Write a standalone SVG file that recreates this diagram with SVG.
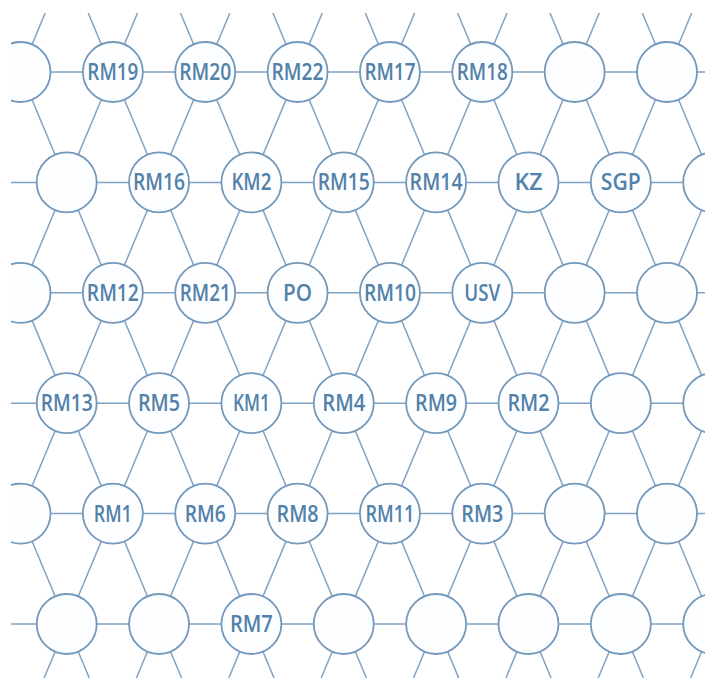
<svg xmlns="http://www.w3.org/2000/svg" width="705" height="678" viewBox="0 0 705 678">
<style>
.ln{stroke:#80a2c3;stroke-width:1.5;fill:none}
.nd{fill:#fdfeff;stroke:#7398bc;stroke-width:1.8}
.lb{font-family:"Open Sans",Lato,sans-serif;font-weight:600;font-size:22.5px;fill:#5281a9;text-anchor:middle}
</style>
<defs>
<clipPath id="c"><rect x="11" y="13" width="694" height="665"/></clipPath>
</defs>
<rect width="705" height="678" fill="#ffffff"/>
<g clip-path="url(#c)">
<g id="connectors" class="ln">
<line x1="11" y1="72" x2="705" y2="72"/>
<line x1="11" y1="182.4" x2="705" y2="182.4"/>
<line x1="11" y1="292.8" x2="705" y2="292.8"/>
<line x1="11" y1="403.2" x2="705" y2="403.2"/>
<line x1="11" y1="513.6" x2="705" y2="513.6"/>
<line x1="11" y1="624" x2="705" y2="624"/>
<line x1="-188.9" y1="13" x2="89.3" y2="678"/>
<line x1="-96.5" y1="13" x2="181.6" y2="678"/>
<line x1="-4.2" y1="13" x2="274" y2="678"/>
<line x1="88.2" y1="13" x2="366.4" y2="678"/>
<line x1="180.5" y1="13" x2="458.7" y2="678"/>
<line x1="272.9" y1="13" x2="551.1" y2="678"/>
<line x1="365.3" y1="13" x2="643.4" y2="678"/>
<line x1="457.6" y1="13" x2="735.8" y2="678"/>
<line x1="550" y1="13" x2="828.2" y2="678"/>
<line x1="642.3" y1="13" x2="920.5" y2="678"/>
<line x1="45.2" y1="13" x2="-233" y2="678"/>
<line x1="137.5" y1="13" x2="-140.6" y2="678"/>
<line x1="229.9" y1="13" x2="-48.3" y2="678"/>
<line x1="322.3" y1="13" x2="44.1" y2="678"/>
<line x1="414.6" y1="13" x2="136.4" y2="678"/>
<line x1="507" y1="13" x2="228.8" y2="678"/>
<line x1="599.3" y1="13" x2="321.2" y2="678"/>
<line x1="691.7" y1="13" x2="413.5" y2="678"/>
<line x1="784.1" y1="13" x2="505.9" y2="678"/>
<line x1="876.4" y1="13" x2="598.2" y2="678"/>
<line x1="968.8" y1="13" x2="690.6" y2="678"/>
</g>
<!-- row 1 -->
<g id="n-r1-0"><circle class="nd" cx="20.5" cy="72" r="30"/></g>
<g id="RM19"><circle class="nd" cx="112.86" cy="72" r="30"/><text class="lb" x="112.86" y="80" textLength="51" lengthAdjust="spacingAndGlyphs">RM19</text></g>
<g id="RM20"><circle class="nd" cx="205.22" cy="72" r="30"/><text class="lb" x="205.22" y="80" textLength="52" lengthAdjust="spacingAndGlyphs">RM20</text></g>
<g id="RM22"><circle class="nd" cx="297.58" cy="72" r="30"/><text class="lb" x="297.58" y="80" textLength="52" lengthAdjust="spacingAndGlyphs">RM22</text></g>
<g id="RM17"><circle class="nd" cx="389.94" cy="72" r="30"/><text class="lb" x="389.94" y="80" textLength="51" lengthAdjust="spacingAndGlyphs">RM17</text></g>
<g id="RM18"><circle class="nd" cx="482.3" cy="72" r="30"/><text class="lb" x="482.3" y="80" textLength="51" lengthAdjust="spacingAndGlyphs">RM18</text></g>
<g id="n-r1-6"><circle class="nd" cx="574.66" cy="72" r="30"/></g>
<g id="n-r1-7"><circle class="nd" cx="667.02" cy="72" r="30"/></g>
<!-- row 2 -->
<g id="n-r2-0"><circle class="nd" cx="66.68" cy="182.4" r="30"/></g>
<g id="RM16"><circle class="nd" cx="159.04" cy="182.4" r="30"/><text class="lb" x="159.04" y="190.4" textLength="52" lengthAdjust="spacingAndGlyphs">RM16</text></g>
<g id="KM2"><circle class="nd" cx="251.4" cy="182.4" r="30"/><text class="lb" x="251.4" y="190.4" textLength="40" lengthAdjust="spacingAndGlyphs">KM2</text></g>
<g id="RM15"><circle class="nd" cx="343.76" cy="182.4" r="30"/><text class="lb" x="343.76" y="190.4" textLength="52" lengthAdjust="spacingAndGlyphs">RM15</text></g>
<g id="RM14"><circle class="nd" cx="436.12" cy="182.4" r="30"/><text class="lb" x="436.12" y="190.4" textLength="53" lengthAdjust="spacingAndGlyphs">RM14</text></g>
<g id="KZ"><circle class="nd" cx="528.48" cy="182.4" r="30"/><text class="lb" x="528.48" y="190.4" textLength="28" lengthAdjust="spacingAndGlyphs">KZ</text></g>
<g id="SGP"><circle class="nd" cx="620.84" cy="182.4" r="30"/><text class="lb" x="620.84" y="190.4" textLength="40" lengthAdjust="spacingAndGlyphs">SGP</text></g>
<g id="n-r2-7"><circle class="nd" cx="713.2" cy="182.4" r="30"/></g>
<!-- row 3 -->
<g id="n-r3-0"><circle class="nd" cx="20.5" cy="292.8" r="30"/></g>
<g id="RM12"><circle class="nd" cx="112.86" cy="292.8" r="30"/><text class="lb" x="112.86" y="300.8" textLength="52" lengthAdjust="spacingAndGlyphs">RM12</text></g>
<g id="RM21"><circle class="nd" cx="205.22" cy="292.8" r="30"/><text class="lb" x="205.22" y="300.8" textLength="51" lengthAdjust="spacingAndGlyphs">RM21</text></g>
<g id="PO"><circle class="nd" cx="297.58" cy="292.8" r="30"/><text class="lb" x="297.58" y="300.8" textLength="29" lengthAdjust="spacingAndGlyphs">PO</text></g>
<g id="RM10"><circle class="nd" cx="389.94" cy="292.8" r="30"/><text class="lb" x="389.94" y="300.8" textLength="52" lengthAdjust="spacingAndGlyphs">RM10</text></g>
<g id="USV"><circle class="nd" cx="482.3" cy="292.8" r="30"/><text class="lb" x="482.3" y="300.8" textLength="36" lengthAdjust="spacingAndGlyphs">USV</text></g>
<g id="n-r3-6"><circle class="nd" cx="574.66" cy="292.8" r="30"/></g>
<g id="n-r3-7"><circle class="nd" cx="667.02" cy="292.8" r="30"/></g>
<!-- row 4 -->
<g id="RM13"><circle class="nd" cx="66.68" cy="403.2" r="30"/><text class="lb" x="66.68" y="411.2" textLength="52" lengthAdjust="spacingAndGlyphs">RM13</text></g>
<g id="RM5"><circle class="nd" cx="159.04" cy="403.2" r="30"/><text class="lb" x="159.04" y="411.2" textLength="42" lengthAdjust="spacingAndGlyphs">RM5</text></g>
<g id="KM1"><circle class="nd" cx="251.4" cy="403.2" r="30"/><text class="lb" x="251.4" y="411.2" textLength="37" lengthAdjust="spacingAndGlyphs">KM1</text></g>
<g id="RM4"><circle class="nd" cx="343.76" cy="403.2" r="30"/><text class="lb" x="343.76" y="411.2" textLength="43" lengthAdjust="spacingAndGlyphs">RM4</text></g>
<g id="RM9"><circle class="nd" cx="436.12" cy="403.2" r="30"/><text class="lb" x="436.12" y="411.2" textLength="42" lengthAdjust="spacingAndGlyphs">RM9</text></g>
<g id="RM2"><circle class="nd" cx="528.48" cy="403.2" r="30"/><text class="lb" x="528.48" y="411.2" textLength="42" lengthAdjust="spacingAndGlyphs">RM2</text></g>
<g id="n-r4-6"><circle class="nd" cx="620.84" cy="403.2" r="30"/></g>
<g id="n-r4-7"><circle class="nd" cx="713.2" cy="403.2" r="30"/></g>
<!-- row 5 -->
<g id="n-r5-0"><circle class="nd" cx="20.5" cy="513.6" r="30"/></g>
<g id="RM1"><circle class="nd" cx="112.86" cy="513.6" r="30"/><text class="lb" x="112.86" y="521.6" textLength="38" lengthAdjust="spacingAndGlyphs">RM1</text></g>
<g id="RM6"><circle class="nd" cx="205.22" cy="513.6" r="30"/><text class="lb" x="205.22" y="521.6" textLength="41" lengthAdjust="spacingAndGlyphs">RM6</text></g>
<g id="RM8"><circle class="nd" cx="297.58" cy="513.6" r="30"/><text class="lb" x="297.58" y="521.6" textLength="42" lengthAdjust="spacingAndGlyphs">RM8</text></g>
<g id="RM11"><circle class="nd" cx="389.94" cy="513.6" r="30"/><text class="lb" x="389.94" y="521.6" textLength="49" lengthAdjust="spacingAndGlyphs">RM11</text></g>
<g id="RM3"><circle class="nd" cx="482.3" cy="513.6" r="30"/><text class="lb" x="482.3" y="521.6" textLength="42" lengthAdjust="spacingAndGlyphs">RM3</text></g>
<g id="n-r5-6"><circle class="nd" cx="574.66" cy="513.6" r="30"/></g>
<g id="n-r5-7"><circle class="nd" cx="667.02" cy="513.6" r="30"/></g>
<!-- row 6 -->
<g id="n-r6-0"><circle class="nd" cx="66.68" cy="624" r="30"/></g>
<g id="n-r6-1"><circle class="nd" cx="159.04" cy="624" r="30"/></g>
<g id="RM7"><circle class="nd" cx="251.4" cy="624" r="30"/><text class="lb" x="251.4" y="632" textLength="43" lengthAdjust="spacingAndGlyphs">RM7</text></g>
<g id="n-r6-3"><circle class="nd" cx="343.76" cy="624" r="30"/></g>
<g id="n-r6-4"><circle class="nd" cx="436.12" cy="624" r="30"/></g>
<g id="n-r6-5"><circle class="nd" cx="528.48" cy="624" r="30"/></g>
<g id="n-r6-6"><circle class="nd" cx="620.84" cy="624" r="30"/></g>
<g id="n-r6-7"><circle class="nd" cx="713.2" cy="624" r="30"/></g>
</g>
</svg>
